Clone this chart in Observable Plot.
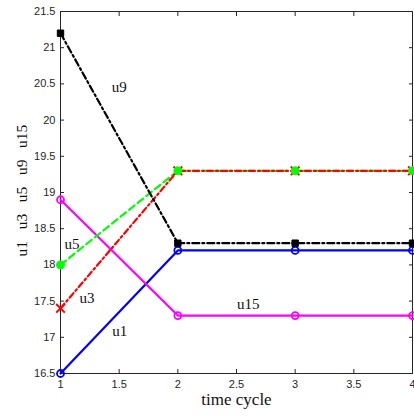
<!DOCTYPE html>
<html><head><meta charset="utf-8">
<script src="https://cdn.jsdelivr.net/npm/d3@7"></script>
<script src="https://cdn.jsdelivr.net/npm/@observablehq/plot@0.6"></script>
<style>body{margin:0;background:#fff;overflow:hidden}</style>
</head><body><div id="chart"></div>
<script>
const cycles = [1, 2, 3, 4];
const u1 = [16.5, 18.2, 18.2, 18.2];
const u3 = [17.4, 19.3, 19.3, 19.3];
const u5 = [18.0, 19.3, 19.3, 19.3];
const u9 = [21.2, 18.3, 18.3, 18.3];
const u15 = [18.9, 17.3, 17.3, 17.3];
const xTicks = [1, 1.5, 2, 2.5, 3, 3.5, 4];
const yTicks = [16.5, 17, 17.5, 18, 18.5, 19, 19.5, 20, 20.5, 21, 21.5];
const seriesLabels = ["u9", "u5", "u3", "u1", "u15"];
const seriesLabelX = [1.50, 1.098, 1.226, 1.506, 2.60];
const seriesLabelY = [20.45, 18.29, 17.54, 17.09, 17.46];
const xLabel = "time cycle";
const yLabelParts = ["u1", "u3", "u5", "u9", "u15"];
const yLabel = yLabelParts.join("\u00a0\u00a0\u00a0");

const rows = vals => cycles.map((c, i) => ({x: c, y: vals[i]}));
const labels = seriesLabels.map((t, i) => ({t, x: seriesLabelX[i], y: seriesLabelY[i]}));

const BLUE = "#0000ff", RED = "#ff0000", GREEN = "#00ff00", BLACK = "#000000", MAGENTA = "#ff00ff";
const serif = "'Liberation Serif', 'Times New Roman', serif";

const chart = Plot.plot({
  width: 414, height: 417,
  marginLeft: 60, marginRight: 2, marginTop: 11, marginBottom: 44,
  style: {fontFamily: "'Liberation Sans', Arial, sans-serif", fontSize: "11px", color: "#262626", background: "#fff"},
  x: {domain: [1, 4]},
  y: {domain: [16.5, 21.5]},
  marks: [
    Plot.axisX({ticks: xTicks, tickSize: 0, tickPadding: 7, tickFormat: d => String(d), label: null}),
    Plot.axisY({ticks: yTicks, tickSize: 0, tickPadding: 5, tickFormat: d => String(d), label: null}),
    Plot.axisX({ticks: xTicks, anchor: "bottom", tickSize: 4, dy: -4, tickFormat: () => "", label: null}),
    Plot.axisX({ticks: xTicks, anchor: "top", tickSize: 4, dy: 4, tickFormat: () => "", label: null}),
    Plot.axisY({ticks: yTicks, anchor: "left", tickSize: 4, dx: 4, tickFormat: () => "", label: null}),
    Plot.axisY({ticks: yTicks, anchor: "right", tickSize: 4, dx: -4, tickFormat: () => "", label: null}),
    Plot.frame({stroke: "#262626", strokeWidth: 1}),
    Plot.line(rows(u1), {x: "x", y: "y", stroke: BLUE, strokeWidth: 2.2}),
    Plot.line(rows(u15), {x: "x", y: "y", stroke: MAGENTA, strokeWidth: 2.2}),
    Plot.line(rows(u5), {x: "x", y: "y", stroke: GREEN, strokeWidth: 2.2, strokeDasharray: "7,4"}),
    Plot.line(rows(u3), {x: "x", y: "y", stroke: RED, strokeWidth: 2.2, strokeDasharray: "6,3,2,3"}),
    Plot.line(rows(u9), {x: "x", y: "y", stroke: BLACK, strokeWidth: 2.2, strokeDasharray: "7,3,2,3"}),
    Plot.dot(rows(u1), {x: "x", y: "y", r: 3.5, stroke: BLUE, strokeWidth: 1.8, fill: "none"}),
    Plot.dot(rows(u15), {x: "x", y: "y", r: 3.5, stroke: MAGENTA, strokeWidth: 1.8, fill: "none"}),
    Plot.dot(rows(u3), {x: "x", y: "y", r: 4, symbol: "times", stroke: RED, strokeWidth: 2}),
    Plot.dot(rows(u5), {x: "x", y: "y", r: 4, fill: GREEN, stroke: GREEN, strokeWidth: 1}),
    Plot.dot(rows(u9), {x: "x", y: "y", r: 3.6, symbol: "square", fill: BLACK, stroke: BLACK, strokeWidth: 1}),
    Plot.text(labels, {x: "x", y: "y", text: "t", fontFamily: serif, fontSize: 15, fill: "#111"}),
    Plot.text([xLabel], {text: d => d, frameAnchor: "bottom", dy: 31, fontFamily: serif, fontSize: 17, fill: "#111"}),
    Plot.text([yLabel], {text: d => d, frameAnchor: "left", textAnchor: "middle", dx: -38, dy: -2, rotate: -90, fontFamily: serif, fontSize: 15.5, fill: "#111"})
  ]
});
document.getElementById("chart").appendChild(chart);
</script>
</body></html>
